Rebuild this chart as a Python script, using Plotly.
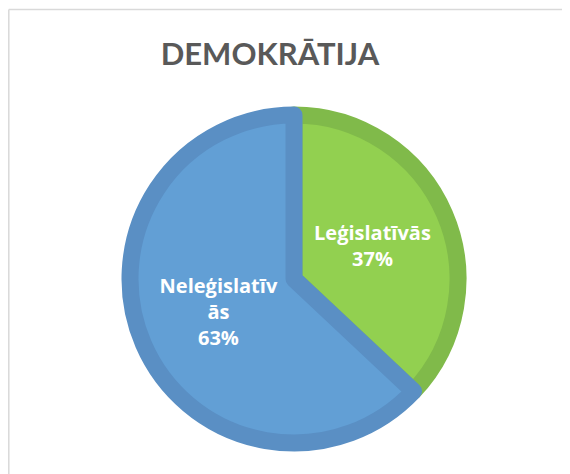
import plotly.graph_objects as go

labels = ["Leģislatīvās", "Neleģislatīvās"]
label_text = ["Leģislatīvās", "Neleģislatīv<br>ās"]
values = [37, 63]
fill_colors = ["#92D050", "#629FD5"]
edge_colors = ["#80BA4A", "#5A8FC4"]

# page is offset by the default 8px body margin
OFF = 8
W, H = 570, 474
cx, cy, r = 294 - OFF, 279 - OFF, 164
FS = 20

fig = go.Figure(go.Pie(
    labels=labels,
    values=values,
    text=[f"{t}<br>{v}%" for t, v in zip(label_text, values)],
    textinfo="text",
    hoverinfo="label+percent",
    sort=False,
    direction="clockwise",
    rotation=0,
    marker=dict(colors=fill_colors, line=dict(color=edge_colors, width=17)),
    textposition="inside",
    insidetextorientation="horizontal",
    textfont=dict(family="Open Sans", size=FS, color="white", weight="bold"),
    domain=dict(x=[(cx - r) / W, (cx + r) / W], y=[(H - cy - r) / H, (H - cy + r) / H]),
    showlegend=False,
))

fig.update_layout(
    width=W, height=H,
    margin=dict(l=0, r=0, t=0, b=0),
    paper_bgcolor="white",
    uniformtext=dict(mode="show", minsize=FS),
    title=dict(text="<b>DEMOKRĀTIJA</b>", x=(270 - OFF) / W, xanchor="center",
               y=1 - (54 - OFF) / H, yanchor="middle",
               font=dict(family="Lato", size=31, color="#595959")),
    shapes=[
        dict(type="line", xref="paper", yref="paper", x0=0.8 / W, x1=1.05,
             y0=1 - 1.5 / H, y1=1 - 1.5 / H, line=dict(color="#D9D9D9", width=1.5)),
        dict(type="line", xref="paper", yref="paper", x0=0.8 / W, x1=0.8 / W,
             y0=-0.05, y1=1 - 1.5 / H, line=dict(color="#D9D9D9", width=1.5)),
    ],
)

fig.write_html("out.html")
